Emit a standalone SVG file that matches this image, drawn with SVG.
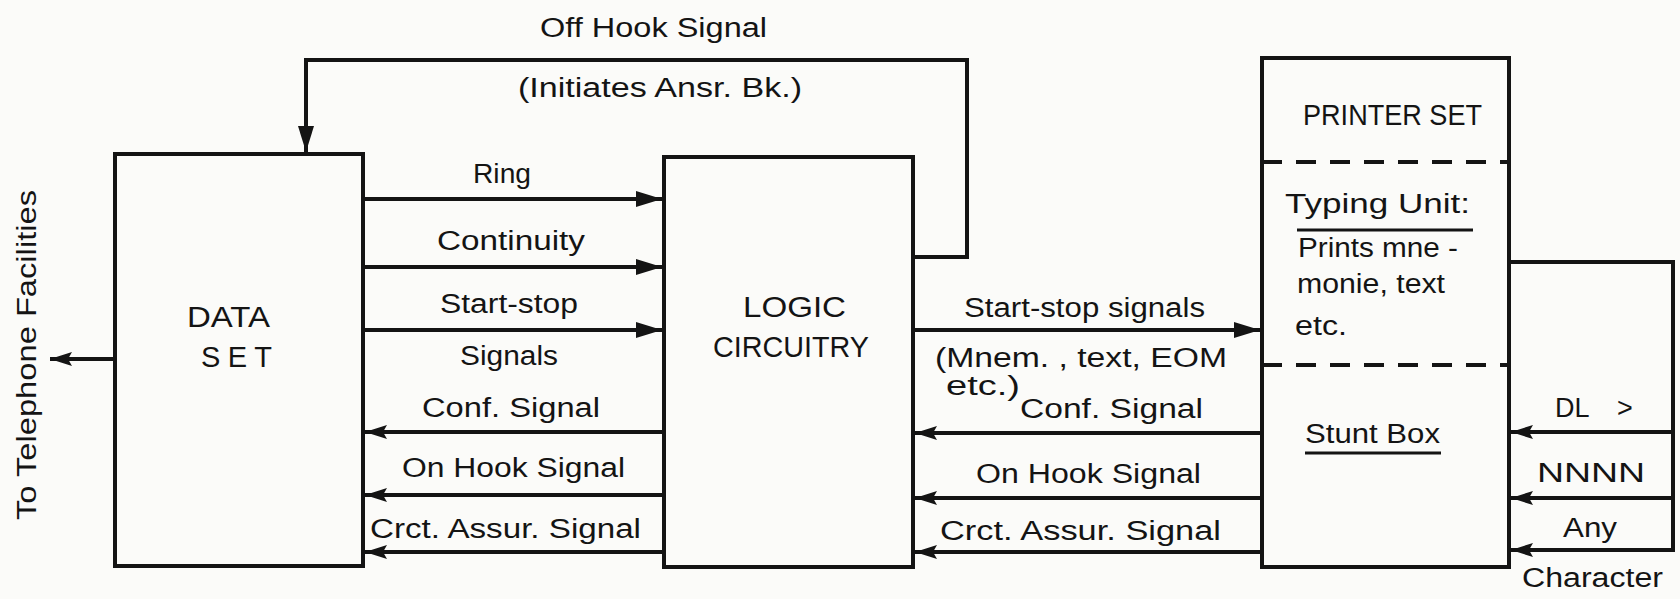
<svg xmlns="http://www.w3.org/2000/svg" width="1680" height="599" viewBox="0 0 1680 599">
<style>
.box{fill:none;stroke:#141414;stroke-width:4}
.ln{fill:none;stroke:#141414;stroke-width:4;stroke-linejoin:miter}
.dash{stroke:#141414;stroke-width:4;stroke-dasharray:20 14}
.t{font-family:"Liberation Sans","DejaVu Sans",sans-serif;font-size:27px;fill:#141414}
.c{font-size:29px}
.ul{stroke:#141414;stroke-width:3}
</style>
<defs>
<marker id="ah" markerUnits="userSpaceOnUse" markerWidth="28" markerHeight="18" refX="26" refY="9" orient="auto">
<path d="M0,1 L26,9 L0,17 Z" fill="#141414"/>
</marker>
<marker id="ahs" markerUnits="userSpaceOnUse" markerWidth="24" markerHeight="16" refX="22" refY="8" orient="auto">
<path d="M0,1 L22,8 L0,15 L4,8 Z" fill="#141414"/>
</marker>
</defs>
<rect width="1680" height="599" fill="#fbfbf9"/>

<g id="data-set">
<rect class="box" x="115" y="154" width="248" height="412"/>
<text class="t c" x="187" y="327" textLength="83" lengthAdjust="spacingAndGlyphs">DATA</text>
<text class="t c" x="201" y="367" textLength="71" lengthAdjust="spacing">SET</text>
</g>

<g id="logic-circuitry">
<rect class="box" x="664" y="157" width="249" height="410"/>
<text class="t c" x="743" y="317" textLength="103" lengthAdjust="spacingAndGlyphs">LOGIC</text>
<text class="t c" x="713" y="357" textLength="156" lengthAdjust="spacingAndGlyphs">CIRCUITRY</text>
</g>

<g id="printer-set">
<rect class="box" x="1262" y="58" width="247" height="509"/>
<text class="t c" x="1303" y="125" textLength="179" lengthAdjust="spacingAndGlyphs">PRINTER SET</text>
<line class="dash" x1="1262" y1="162" x2="1509" y2="162"/>
<text class="t" x="1285" y="213" textLength="185" lengthAdjust="spacingAndGlyphs">Typing Unit:</text>
<line class="ul" x1="1297" y1="230" x2="1473" y2="230"/>
<text class="t" x="1298" y="257" textLength="160" lengthAdjust="spacingAndGlyphs">Prints mne -</text>
<text class="t" x="1297" y="293" textLength="148" lengthAdjust="spacingAndGlyphs">monie, text</text>
<text class="t" x="1295" y="335" textLength="52" lengthAdjust="spacingAndGlyphs">etc.</text>
<line class="dash" x1="1262" y1="365" x2="1509" y2="365"/>
<text class="t" x="1305" y="443" textLength="135" lengthAdjust="spacingAndGlyphs">Stunt Box</text>
<line class="ul" x1="1305" y1="453" x2="1441" y2="453"/>
</g>

<g id="connectors">
<polyline class="ln" points="913,257 967,257 967,60 306,60 306,152" marker-end="url(#ah)"/>
<line class="ln" x1="363" y1="199" x2="662" y2="199" marker-end="url(#ah)"/>
<line class="ln" x1="363" y1="267" x2="662" y2="267" marker-end="url(#ah)"/>
<line class="ln" x1="363" y1="330" x2="662" y2="330" marker-end="url(#ah)"/>
<line class="ln" x1="664" y1="432" x2="365" y2="432" marker-end="url(#ahs)"/>
<line class="ln" x1="664" y1="495" x2="365" y2="495" marker-end="url(#ahs)"/>
<line class="ln" x1="664" y1="552" x2="365" y2="552" marker-end="url(#ahs)"/>
<line class="ln" x1="115" y1="359" x2="50" y2="359" marker-end="url(#ahs)"/>
<line class="ln" x1="913" y1="330" x2="1260" y2="330" marker-end="url(#ah)"/>
<line class="ln" x1="1262" y1="433" x2="915" y2="433" marker-end="url(#ahs)"/>
<line class="ln" x1="1262" y1="498" x2="915" y2="498" marker-end="url(#ahs)"/>
<line class="ln" x1="1262" y1="552" x2="915" y2="552" marker-end="url(#ahs)"/>
<polyline class="ln" points="1509,262 1673,262 1673,550 1511,550" marker-end="url(#ahs)"/>
<line class="ln" x1="1673" y1="432" x2="1511" y2="432" marker-end="url(#ahs)"/>
<line class="ln" x1="1673" y1="498" x2="1511" y2="498" marker-end="url(#ahs)"/>
</g>

<g id="labels">
<text class="t" x="540" y="37" textLength="227" lengthAdjust="spacingAndGlyphs">Off Hook Signal</text>
<text class="t" x="518" y="97" textLength="284" lengthAdjust="spacingAndGlyphs">(Initiates Ansr. Bk.)</text>
<text class="t" x="473" y="183" textLength="58" lengthAdjust="spacingAndGlyphs">Ring</text>
<text class="t" x="437" y="250" textLength="148" lengthAdjust="spacingAndGlyphs">Continuity</text>
<text class="t" x="440" y="313" textLength="138" lengthAdjust="spacingAndGlyphs">Start-stop</text>
<text class="t" x="460" y="365" textLength="98" lengthAdjust="spacingAndGlyphs">Signals</text>
<text class="t" x="422" y="417" textLength="178" lengthAdjust="spacingAndGlyphs">Conf. Signal</text>
<text class="t" x="402" y="477" textLength="223" lengthAdjust="spacingAndGlyphs">On Hook Signal</text>
<text class="t" x="370" y="538" textLength="271" lengthAdjust="spacingAndGlyphs">Crct. Assur. Signal</text>
<text class="t" x="964" y="317" textLength="241" lengthAdjust="spacingAndGlyphs">Start-stop signals</text>
<text class="t" x="935" y="367" textLength="292" lengthAdjust="spacingAndGlyphs">(Mnem. , text, EOM</text>
<text class="t" x="946" y="395" textLength="74" lengthAdjust="spacingAndGlyphs">etc.)</text>
<text class="t" x="1020" y="418" textLength="183" lengthAdjust="spacingAndGlyphs">Conf. Signal</text>
<text class="t" x="976" y="483" textLength="225" lengthAdjust="spacingAndGlyphs">On Hook Signal</text>
<text class="t" x="940" y="540" textLength="281" lengthAdjust="spacingAndGlyphs">Crct. Assur. Signal</text>
<text class="t" x="1555" y="417">DL<tspan x="1617">&gt;</tspan></text>
<text class="t" x="1537" y="482" textLength="108" lengthAdjust="spacingAndGlyphs">NNNN</text>
<text class="t" x="1563" y="537" textLength="54" lengthAdjust="spacingAndGlyphs">Any</text>
<text class="t" x="1522" y="587" textLength="141" lengthAdjust="spacingAndGlyphs">Character</text>
<text class="t" transform="translate(36,520) rotate(-90)" x="0" y="0" textLength="330" lengthAdjust="spacingAndGlyphs">To Telephone Facilities</text>
</g>
</svg>
